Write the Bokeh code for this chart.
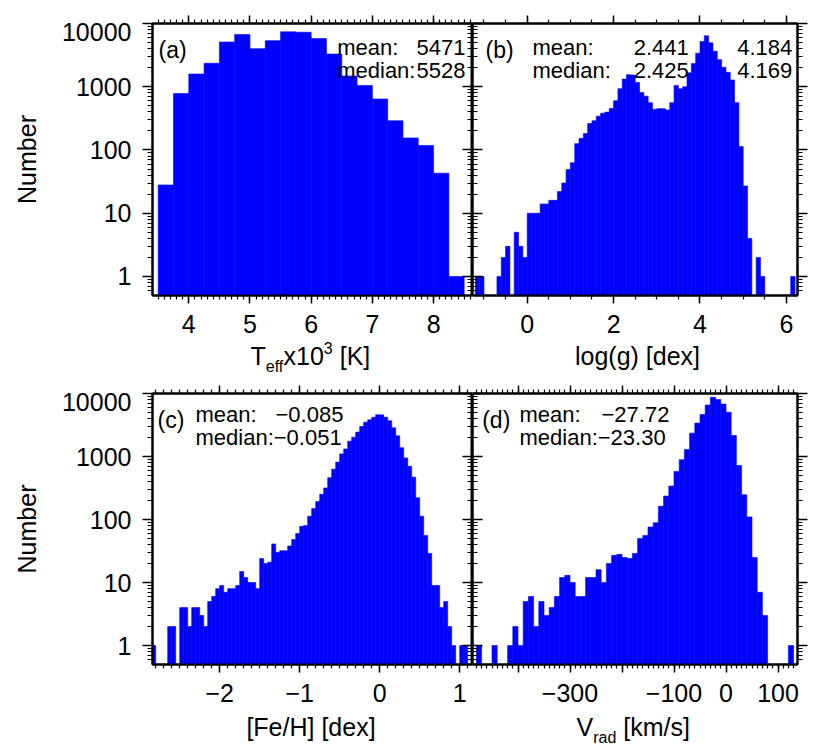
import numpy as np
from bokeh.plotting import figure
from bokeh.models import (Range1d, FixedTicker, LinearAxis, LogAxis, Label,
                          CustomJSTickFormatter)
from bokeh.core.properties import value
from bokeh.layouts import column, row
from bokeh.embed import file_html
from bokeh.resources import INLINE

# ------------------------------------------------------------------ data
teff_bin_start = 3.5          # x10^3 K
teff_bin_width = 0.25
teff_counts = [28, 783, 1590, 2350, 5100, 6680, 4000, 5360, 7380, 7280,
               5780, 3290, 1480, 1050, 640, 290, 155, 118, 43, 1]

logg_bin_start = -1.2
logg_bin_width = 0.1
logg_counts = [1, 1, 0, 0, 0, 1, 2, 3, 0, 5, 3, 2,
               10, 10, 10, 14, 14, 16, 16, 22, 30, 49,
               63, 126, 153, 182, 262, 290, 343, 382, 397, 453,
               600, 930, 1320, 1550, 1530, 1170, 810, 710, 560, 440,
               450, 450, 430, 560, 1050, 930, 1000, 1660, 2340, 3390,
               5200, 6400, 4950, 3640, 2680, 2030, 1690, 1280, 560, 113,
               27, 4, 0, 2, 1, 0, 0, 0, 0, 0,
               0, 1]

feh_bin_start = -2.85
feh_bin_width = 0.05
feh_counts = [1, 0, 0, 0, 2, 2, 0, 4, 4, 2,
              4, 4, 3, 2, 5, 6, 8, 9, 7, 8,
              8, 9, 15, 12, 10, 10, 8, 24, 20, 21,
              41, 30, 32, 32, 38, 48, 60, 78, 80, 113,
              149, 194, 251, 317, 460, 630, 815, 1100, 1320, 1750,
              2030, 2440, 3000, 3510, 3820, 4200, 4580, 4580, 4200, 3700,
              2850, 2130, 1380, 950, 700, 470, 221, 113, 56, 29,
              9, 9, 4, 5, 2, 1, 0, 1, 1]

vrad_bin_start = -480
vrad_bin_width = 10
vrad_counts = [1, 0, 0, 1, 0, 0, 1, 2, 1, 5,
               6, 2, 5, 3, 4, 6, 12, 13, 10, 6,
               6, 12, 12, 16, 10, 20, 27, 28, 25, 24,
               29, 50, 56, 76, 89, 162, 236, 340, 580, 890,
               1290, 2350, 3390, 4640, 6560, 8710, 8000, 6800, 5040, 2150,
               720, 247, 110, 25, 7, 3, 0, 0, 0, 0,
               1]

teff_stats = ("5471", "5528")
logg_stats = (("2.441", "4.184"), ("2.425", "4.169"))
feh_stats = ("\u22120.085", "\u22120.051")
vrad_stats = ("\u221227.72", "\u221223.30")

y_label_values = [1, 10, 100, 1000]
y_label_texts = ["1", "10", "100", "1000"]
y_top_text = "10000"
teff_tick_labels = {"4": "4", "5": "5", "6": "6", "7": "7", "8": "8"}
logg_tick_labels = {"0": "0", "2": "2", "4": "4", "6": "6"}
feh_tick_labels = {"-2": "\u22122", "-1": "\u22121", "0": "0", "1": "1"}
vrad_tick_labels = {"-300": "\u2212300", "-100": "\u2212100", "0": "0", "100": "100"}

# ------------------------------------------------------------------ style
FONT = "Liberation Sans"
BLUE = "#0000ff"
TICK_FS = "25px"
TITLE_FS = 25
SUB_FS = 16
ANNOT = 22
BASE_FIX = 0.26      # em: rendered alphabetic baseline sits this much lower
TOP_LABEL_DROP = 8   # px: the "10000" label sits below its tick, inside the top edge
DECADE_PX = 63.0

ADV = {"T": .611, "e": .556, "f": .278, "x": .5, "1": .556, "0": .556, "3": .556,
       " ": .278, "[": .278, "K": .667, "]": .278, "V": .667, "r": .333,
       "a": .556, "d": .556, "k": .5, "m": .833, "/": .278, "s": .5,
       "i": .222, "n": .556, ":": .278}


def tw(s, size):
    return sum(ADV.get(ch, .556) for ch in s) * size


y_major = [1, 10, 100, 1000, 10000]
y_minor = [m * 10.0 ** e for e in range(-1, 4) for m in range(2, 10)
           if m * 10.0 ** e > 0.5]


def fmt(mapping):
    return CustomJSTickFormatter(args=dict(m=mapping), code="""
        const k = String(Math.round(tick * 1000) / 1000);
        return (k in m) ? m[k] : '';
    """)


def hide_labels(ax):
    ax.formatter = CustomJSTickFormatter(code="return '';")
    ax.major_label_text_font_size = "1px"
    ax.major_label_text_color = None
    ax.major_label_standoff = 0


def base_axis(ax):
    ax.axis_line_width = 2
    ax.axis_line_color = "black"
    ax.major_tick_line_width = 1.5
    ax.minor_tick_line_width = 1.2
    ax.major_tick_line_color = "black"
    ax.minor_tick_line_color = "black"
    ax.major_label_text_font = FONT
    ax.major_label_text_font_size = TICK_FS
    ax.major_label_text_color = "black"


def add_text(p, x, y, text, size=ANNOT, align="left"):
    p.add_layout(Label(x=x, y=y + BASE_FIX * size, x_units="screen", y_units="screen",
                       text=text, text_font=FONT, text_font_size=f"{size}px",
                       text_align=align, text_baseline="alphabetic",
                       text_color="black"))


def build(counts, start, width, xr, xmajor, xminor, xlabels, frame_w, frame_h,
          b_left, b_right, b_top, b_bottom, outer_left):
    p = figure(frame_width=frame_w, frame_height=frame_h,
               x_range=Range1d(*xr), y_range=Range1d(0.5, 10000),
               y_axis_type="log", x_axis_location=None, y_axis_location=None,
               min_border_left=b_left, min_border_right=b_right,
               min_border_top=b_top, min_border_bottom=b_bottom,
               output_backend="svg", toolbar_location=None)
    p.outline_line_color = "black"
    p.outline_line_width = 2
    p.background_fill_color = "white"
    p.border_fill_color = None
    p.xgrid.grid_line_color = None
    p.ygrid.grid_line_color = None

    c = np.asarray(counts, dtype=float)
    lefts = start + width * np.arange(len(c))
    keep = c > 0
    p.quad(left=lefts[keep], right=lefts[keep] + width,
           bottom=p.y_range.start, top=c[keep],
           fill_color=BLUE, line_color=BLUE, line_width=0.6)

    below = LinearAxis(ticker=FixedTicker(ticks=xmajor, minor_ticks=xminor))
    base_axis(below)
    below.formatter = fmt(xlabels)
    below.major_tick_out, below.major_tick_in = 8, 0
    below.minor_tick_out, below.minor_tick_in = 4, 0
    below.major_label_standoff = 11
    p.add_layout(below, "below")

    above = LinearAxis(ticker=FixedTicker(ticks=xmajor, minor_ticks=xminor))
    base_axis(above)
    above.major_tick_out, above.major_tick_in = 8, 0
    above.minor_tick_out, above.minor_tick_in = 4, 0
    hide_labels(above)
    p.add_layout(above, "above")

    left = LogAxis(ticker=FixedTicker(ticks=y_major, minor_ticks=y_minor))
    right = LogAxis(ticker=FixedTicker(ticks=y_major, minor_ticks=y_minor))
    base_axis(left)
    base_axis(right)
    hide_labels(left)
    hide_labels(right)
    if outer_left:
        left.major_tick_out, left.major_tick_in = 10, 0
        left.minor_tick_out, left.minor_tick_in = 5, 0
        right.major_tick_out, right.major_tick_in = 0, 10
        right.minor_tick_out, right.minor_tick_in = 0, 5
    else:
        left.major_tick_out, left.major_tick_in = 0, 10
        left.minor_tick_out, left.minor_tick_in = 0, 5
        right.major_tick_out, right.major_tick_in = 10, 0
        right.minor_tick_out, right.minor_tick_in = 5, 0
    p.add_layout(left, "left")
    p.add_layout(right, "right")

    if outer_left:
        # label-only axis outside the tick axis; the top label is nudged inside
        top_pos = p.y_range.end * 10 ** (-TOP_LABEL_DROP / DECADE_PX)
        lab_pos = list(y_label_values) + [top_pos]
        mapping = {str(v): t for v, t in zip(y_label_values, y_label_texts)}
        mapping[str(round(top_pos * 1000) / 1000).rstrip("0").rstrip(".")] = y_top_text
        lab = LogAxis(ticker=FixedTicker(ticks=lab_pos, minor_ticks=[]))
        base_axis(lab)
        lab.axis_line_color = None
        lab.major_tick_line_color = None
        lab.minor_tick_line_color = None
        lab.major_tick_out = lab.major_tick_in = 0
        lab.minor_tick_out = lab.minor_tick_in = 0
        lab.formatter = fmt(mapping)
        lab.major_label_standoff = 11
        lab.axis_label = "Number"
        lab.axis_label_text_font = FONT
        lab.axis_label_text_font_size = f"{TITLE_FS}px"
        lab.axis_label_text_font_style = "normal"
        lab.axis_label_text_color = "black"
        lab.axis_label_standoff = 18
        p.add_layout(lab, "left")
    return p


def title_strip(total_w, h, baseline_from_top, pieces, overlap):
    """Transparent strip that slides `overlap` px up over the row above it.
    pieces: list of (x, text, size_px, dy_down, align)"""
    s = figure(width=total_w, height=h, x_range=Range1d(0, total_w),
               y_range=Range1d(0, h), x_axis_location=None, y_axis_location=None,
               min_border=0, output_backend="svg", toolbar_location=None,
               margin=(-overlap, 0, 0, 0))
    s.min_border_left = s.min_border_right = s.min_border_top = s.min_border_bottom = 0
    s.outline_line_color = None
    s.xgrid.grid_line_color = None
    s.ygrid.grid_line_color = None
    s.background_fill_color = None
    s.border_fill_color = None
    for size in sorted({pc[2] for pc in pieces}):
        for align in ("left", "center"):
            sel = [pc for pc in pieces if pc[2] == size and pc[4] == align]
            if not sel:
                continue
            s.text(x=[pc[0] for pc in sel],
                   y=[h - baseline_from_top - pc[3] + BASE_FIX * size for pc in sel],
                   text=[pc[1] for pc in sel],
                   text_font=value(FONT), text_font_size=value(f"{size}px"),
                   text_align=align, text_baseline="alphabetic", text_color="black")
    return s


def compose(x0, parts):
    out = []
    x = x0
    for text, size, dy, gap in parts:
        x += gap
        out.append((x, text, size, dy, "left"))
        x += tw(text, size)
    return out


teff_minor = list(np.round(np.arange(3.4, 8.65, 0.1), 2))
logg_minor = list(np.arange(-1.0, 6.01, 0.5))
feh_minor = list(np.round(np.arange(-2.8, 1.15, 0.1), 2))
vrad_minor = list(np.arange(-480, 131, 10))

LEFT_B, A_W, B_W, RIGHT_B = 152, 320, 325, 20
TOTAL_W = LEFT_B + A_W + B_W + RIGHT_B
ROW_BOTTOM = 60
TOP = dict(frame_h=272, b_top=23, b_bottom=ROW_BOTTOM)
BOT = dict(frame_h=271, b_top=18, b_bottom=ROW_BOTTOM)

pa = build(teff_counts, teff_bin_start, teff_bin_width, (3.407, 8.636),
           [4, 5, 6, 7, 8], teff_minor, teff_tick_labels, A_W,
           b_left=LEFT_B, b_right=0, outer_left=True, **TOP)
pb = build(logg_counts, logg_bin_start, logg_bin_width, (-1.266, 6.257),
           [0, 2, 4, 6], logg_minor, logg_tick_labels, B_W,
           b_left=0, b_right=RIGHT_B, outer_left=False, **TOP)
pc = build(feh_counts, feh_bin_start, feh_bin_width, (-2.84, 1.16),
           [-2, -1, 0, 1], feh_minor, feh_tick_labels, A_W,
           b_left=LEFT_B, b_right=0, outer_left=True, **BOT)
pd = build(vrad_counts, vrad_bin_start, vrad_bin_width, (-487.5, 137.5),
           [-400, -300, -200, -100, 0, 100], vrad_minor, vrad_tick_labels, B_W,
           b_left=0, b_right=RIGHT_B, outer_left=False, **BOT)

# ---- annotations inside the frames (frame-relative pixels, baseline y up from bottom)
add_text(pa, 6, 239.8, "(a)", size=23)
add_text(pa, 184.7, 242.3, "mean:")
add_text(pa, 313, 242.3, teff_stats[0], align="right")
add_text(pa, 184.7, 219.5, "median:")
add_text(pa, 313, 219.5, teff_stats[1], align="right")

add_text(pb, 13, 239.8, "(b)", size=23)
add_text(pb, 60, 242.3, "mean:")
add_text(pb, 216.3, 242.3, logg_stats[0][0], align="right")
add_text(pb, 319.7, 242.3, logg_stats[0][1], align="right")
add_text(pb, 60, 219.5, "median:")
add_text(pb, 216.3, 219.5, logg_stats[1][0], align="right")
add_text(pb, 319.7, 219.5, logg_stats[1][1], align="right")

MED_W = tw("median:", ANNOT)
add_text(pc, 5, 238.8, "(c)", size=23)
add_text(pc, 43, 244, "mean:")
add_text(pc, 123, 244, feh_stats[0])
add_text(pc, 43, 221.3, "median:")
add_text(pc, 43 + MED_W, 221.3, feh_stats[1])

add_text(pd, 9.7, 238.8, "(d)", size=23)
add_text(pd, 47, 244, "mean:")
add_text(pd, 129, 244, vrad_stats[0])
add_text(pd, 47, 221.3, "median:")
add_text(pd, 47 + MED_W, 221.3, vrad_stats[1])

# ---- x-axis titles: transparent strips overlapping the rows' bottom borders
S = TITLE_FS
strip1 = title_strip(TOTAL_W, 35, 22,
                     compose(250, [("T", S, 0, 0), ("eff", SUB_FS, 7.7, 0),
                                   ("x10", S, 0, 0), ("3", SUB_FS, -10, 0),
                                   ("[K]", S, 0, tw(" ", S))])
                     + [(637, "log(g) [dex]", S, 0, "center")],
                     overlap=15)
strip2 = title_strip(TOTAL_W, 42, 23,
                     [(310.5, "[Fe/H] [dex]", S, 0, "center")]
                     + compose(576, [("V", S, 0, 0), ("rad", SUB_FS, 7.7, 0),
                                     ("[km/s]", S, 0, tw(" ", S))]),
                     overlap=14)

layout = column(row(pa, pb), strip1, row(pc, pd), strip2)
open("out.html", "w").write(file_html(layout, INLINE, title="Stellar parameter histograms"))
